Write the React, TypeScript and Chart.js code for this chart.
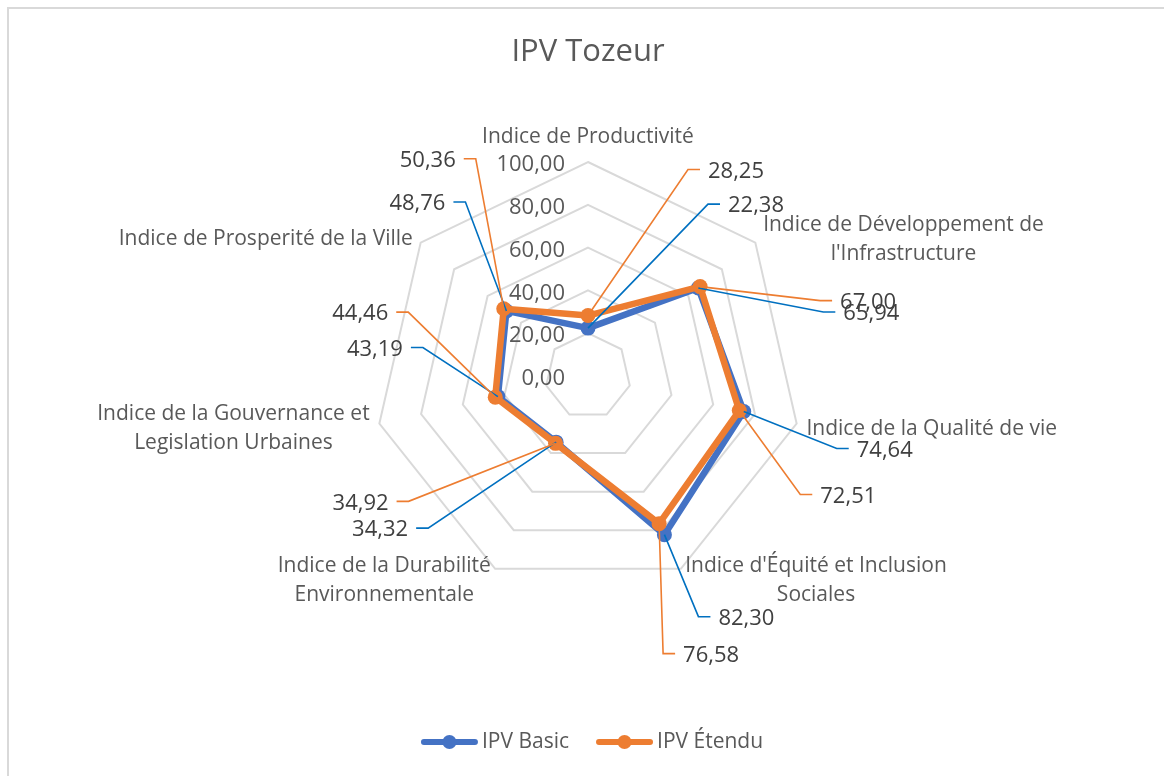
import React, { useEffect, useRef } from "react";
import { Chart, registerables } from "chart.js";

Chart.register(...registerables);

// ---------- data ----------
const chartTitle = "IPV Tozeur";
const categories: string[][] = [
  ["Indice de Productivité"],
  ["Indice de Développement de", "l'Infrastructure"],
  ["Indice de la Qualité de vie"],
  ["Indice d'Équité et Inclusion", "Sociales"],
  ["Indice de la Durabilité", "Environnementale"],
  ["Indice de la Gouvernance et", "Legislation Urbaines"],
  ["Indice de Prosperité de la Ville"],
];
const seriesNames = ["IPV Basic", "IPV Étendu"];
const basicValues = [22.38, 65.94, 74.64, 82.3, 34.32, 43.19, 48.76];
const etenduValues = [28.25, 67.0, 72.51, 76.58, 34.92, 44.46, 50.36];
const axisMin = 0;
const axisMax = 100;
const axisStep = 20;

// ---------- layout / style (not data) ----------
// data label placement relative to its point: [dx, dy] of the label's near edge / middle
const basicLabelOffsets = [
  [140, -123], [145, 25], [113, 38], [54, 83], [-148, 87], [-95, -48], [-61, -108],
];
const etenduLabelOffsets = [
  [120, -145], [140, 15], [81, 85], [24, 131], [-167, 59], [-107, -84], [-48, -149],
];
const BLUE = "#4472C4";
const BLUE_LEADER = "#0070C0";
const ORANGE = "#ED7D31";
const TEXT = "#595959";
const DARK_TEXT = "#404040";
const FONT = "'Open Sans', sans-serif";

const fmt = (v: number) => v.toFixed(2).replace(".", ",");

const decor = {
  id: "decor",
  beforeDraw(chart: any) {
    const ctx = chart.ctx as CanvasRenderingContext2D;
    ctx.save();
    ctx.fillStyle = "#ffffff";
    ctx.fillRect(0, 0, chart.width, chart.height);
    ctx.strokeStyle = "#d9d9d9";
    ctx.lineWidth = 2;
    ctx.strokeRect(8, 8, chart.width + 40, chart.height + 40);
    ctx.fillStyle = TEXT;
    ctx.font = `31px ${FONT}`;
    ctx.textAlign = "center";
    ctx.textBaseline = "middle";
    const scale = chart.scales.r;
    ctx.fillText(chartTitle, scale.xCenter, 52);
    ctx.restore();
  },
  beforeDatasetsDraw(chart: any) {
    const ctx = chart.ctx as CanvasRenderingContext2D;
    const scale = chart.scales.r;
    ctx.save();
    // tick labels
    ctx.fillStyle = TEXT;
    ctx.font = `22px ${FONT}`;
    ctx.textAlign = "right";
    ctx.textBaseline = "middle";
    scale.ticks.forEach((t: any) => {
      const d = scale.getDistanceFromCenterForValue(t.value);
      ctx.fillText(fmt(t.value), scale.xCenter - 23, scale.yCenter - d + 3);
    });
    // category labels
    ctx.font = `21px ${FONT}`;
    const lh = 29;
    categories.forEach((lines, i) => {
      const p = scale.getPointPosition(i, scale.drawingArea + 10);
      const c = Math.cos(p.angle);
      const widths = lines.map((l) => ctx.measureText(l).width);
      const w = Math.max(...widths);
      let left: number;
      let cy: number;
      if (Math.abs(c) < 0.1) {
        left = p.x - w / 2;
        cy = scale.yCenter - scale.drawingArea - 25 - ((lines.length - 1) * lh) / 2;
      } else if (c > 0) {
        left = p.x;
        cy = p.y + 3;
      } else {
        left = p.x - w;
        cy = p.y + 3;
      }
      ctx.textAlign = "center";
      const top = cy - ((lines.length - 1) * lh) / 2;
      lines.forEach((l, k) => {
        ctx.fillText(l, left + w / 2, top + k * lh);
      });
    });
    ctx.restore();
  },
  afterDatasetsDraw(chart: any) {
    const ctx = chart.ctx as CanvasRenderingContext2D;
    ctx.save();
    const sets = [
      { idx: 0, offs: basicLabelOffsets, color: BLUE_LEADER, values: basicValues },
      { idx: 1, offs: etenduLabelOffsets, color: ORANGE, values: etenduValues },
    ];
    sets.forEach((s) => {
      const meta = chart.getDatasetMeta(s.idx);
      meta.data.forEach((pt: any, i: number) => {
        const [dx, dy] = s.offs[i];
        const dir = dx >= 0 ? 1 : -1;
        const ex = pt.x + dx;
        const ey = pt.y + dy;
        ctx.strokeStyle = s.color;
        ctx.lineWidth = 1.6;
        ctx.lineJoin = "miter";
        ctx.beginPath();
        ctx.moveTo(pt.x, pt.y);
        ctx.lineTo(ex - dir * 20, ey - 1);
        ctx.lineTo(ex - dir * 8, ey - 1);
        ctx.stroke();
        ctx.fillStyle = DARK_TEXT;
        ctx.font = `22px ${FONT}`;
        ctx.textBaseline = "middle";
        ctx.textAlign = dir > 0 ? "left" : "right";
        ctx.fillText(fmt(s.values[i]), ex, ey + 1);
      });
    });
    ctx.restore();
  },
  afterDraw(chart: any) {
    const ctx = chart.ctx as CanvasRenderingContext2D;
    ctx.save();
    ctx.font = `21px ${FONT}`;
    ctx.textBaseline = "middle";
    ctx.textAlign = "left";
    const colors = [BLUE, ORANGE];
    const lineW = 57;
    const gap = 4;
    const itemGap = 27;
    const widths = seriesNames.map((n) => ctx.measureText(n).width);
    const total = widths.reduce((a, w) => a + lineW + gap + w, 0) + itemGap * (seriesNames.length - 1);
    let x = chart.width / 2 + 10 - total / 2;
    const y = 742;
    seriesNames.forEach((n, k) => {
      ctx.strokeStyle = colors[k];
      ctx.lineWidth = 6;
      ctx.lineCap = "round";
      ctx.beginPath();
      ctx.moveTo(x + 3, y);
      ctx.lineTo(x + lineW - 3, y);
      ctx.stroke();
      ctx.fillStyle = colors[k];
      ctx.beginPath();
      ctx.arc(x + lineW / 2, y, 7, 0, Math.PI * 2);
      ctx.fill();
      ctx.fillStyle = TEXT;
      ctx.fillText(n, x + lineW + gap, y);
      x += lineW + gap + widths[k] + itemGap;
    });
    ctx.restore();
  },
};

export default function App() {
  const ref = useRef<HTMLCanvasElement>(null);
  useEffect(() => {
    document.body.style.margin = "0";
    document.body.style.overflow = "hidden";
    const chart = new Chart(ref.current as HTMLCanvasElement, {
      type: "radar",
      data: {
        labels: categories,
        datasets: [
          {
            label: seriesNames[0],
            data: basicValues,
            borderColor: BLUE,
            backgroundColor: BLUE,
            pointBackgroundColor: BLUE,
            pointBorderColor: BLUE,
            borderWidth: 6.5,
            pointRadius: 7.5,
            pointBorderWidth: 0,
            fill: false,
            borderJoinStyle: "round",
            order: 1,
          },
          {
            label: seriesNames[1],
            data: etenduValues,
            borderColor: ORANGE,
            backgroundColor: ORANGE,
            pointBackgroundColor: ORANGE,
            pointBorderColor: ORANGE,
            borderWidth: 6.5,
            pointRadius: 7.5,
            pointBorderWidth: 0,
            fill: false,
            borderJoinStyle: "round",
            order: 0,
          },
        ],
      },
      options: {
        responsive: false,
        maintainAspectRatio: false,
        animation: false,
        events: [],
        layout: { padding: { left: 374, right: 362, top: 162, bottom: 186 } },
        plugins: {
          legend: { display: false },
          title: { display: false },
          tooltip: { enabled: false },
        },
        scales: {
          r: {
            min: axisMin,
            max: axisMax,
            ticks: { display: false, stepSize: axisStep },
            grid: { color: "#d9d9d9", lineWidth: 2 },
            angleLines: { display: false },
            pointLabels: { display: false },
          },
        },
      },
      plugins: [decor],
    } as any);
    return () => chart.destroy();
  }, []);
  return <canvas ref={ref} width={1164} height={776} style={{ display: "block" }} />;
}
